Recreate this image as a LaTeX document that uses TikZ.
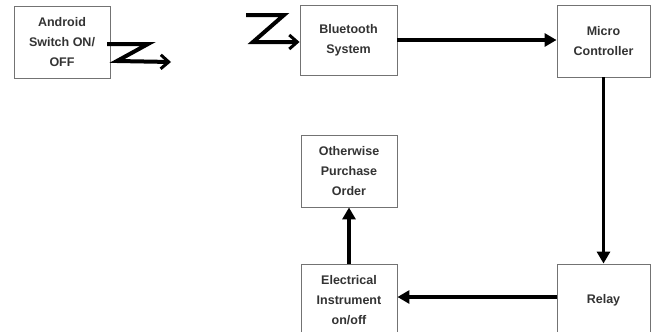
\documentclass[tikz,border=0pt]{standalone}
\usepackage{fontspec}
\setmainfont{Liberation Sans}
\usetikzlibrary{arrows.meta}
\begin{document}
\begin{tikzpicture}[x=1pt,y=-1pt,
  blk/.style={draw=black!55, line width=0.9pt, fill=white, inner sep=0pt,
    align=center, text=black!80, font=\bfseries\fontsize{12.5}{20}\selectfont},
  arr/.style={line width=3.6pt, -{Triangle[length=12pt,width=13pt]}},
  zz/.style={line width=4pt, line join=miter, -{Straight Barb[length=8pt,width=14pt,line width=3pt]}}]
\useasboundingbox (0,0) rectangle (659,332);
\node[blk, minimum width=96pt, minimum height=72pt] (android) at (62,42) {Android\\Switch ON/\\OFF};
\node[blk, minimum width=97pt, minimum height=70pt] (bt) at (348.5,40) {Bluetooth\\System};
\node[blk, minimum width=93pt, minimum height=72pt] (mc) at (603.5,41) {Micro\\Controller};
\node[blk, minimum width=96pt, minimum height=72pt] (oth) at (349,171) {Otherwise\\Purchase\\Order};
\node[blk, minimum width=96pt, minimum height=72pt] (el) at (349,300) {Electrical\\Instrument\\on/off};
\node[blk, minimum width=93pt, minimum height=72pt] (rel) at (603.5,300) {Relay};
\coordinate (z1a) at (107,44);
\coordinate (z1e) at (171,62);
\draw[zz] (z1a) -- (148,44) -- (117,61) -- (z1e);
\coordinate (z2a) at (246,15);
\draw[zz] (z2a) -- (284,15) -- (253,42) -- (bt.west |- 0,42);
\draw[arr] (bt.east |- 0,40) -- (mc.west |- 0,40);
\draw[arr] (mc.south) -- (rel.north);
\draw[arr] (rel.west |- 0,297) -- (el.east |- 0,297);
\draw[arr] (el.north) -- (oth.south);
\end{tikzpicture}
\end{document}
